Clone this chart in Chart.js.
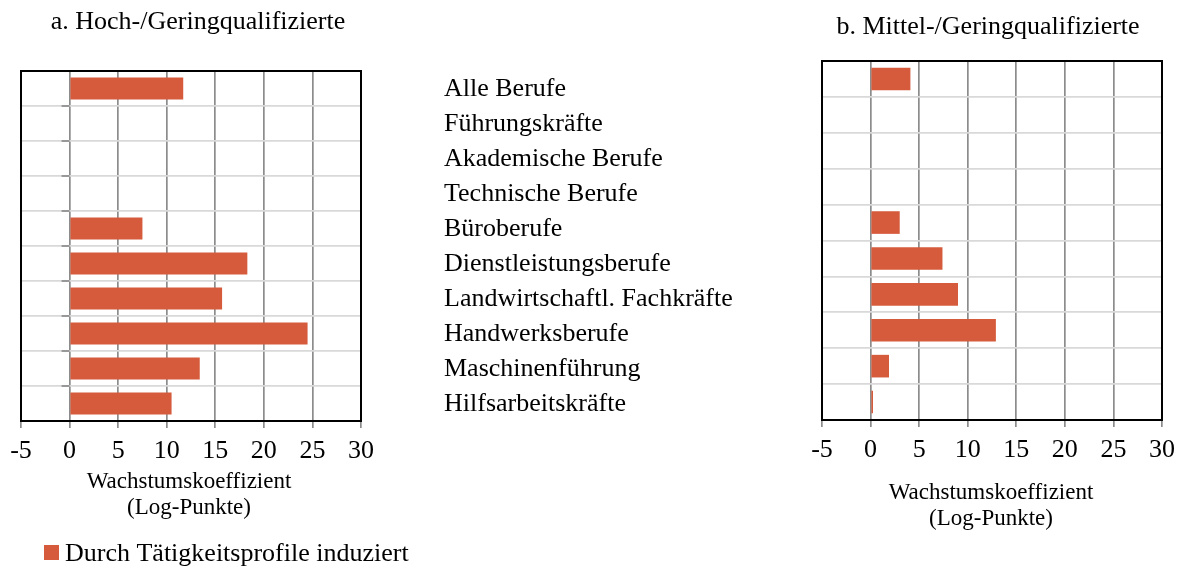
<!DOCTYPE html>
<html>
<head>
<meta charset="utf-8">
<script src="https://cdn.jsdelivr.net/npm/chart.js@4/dist/chart.umd.min.js"></script>
<style>
  html, body { margin: 0; padding: 0; background: #ffffff; }
  body { width: 1183px; height: 568px; position: relative; overflow: hidden; }
  .cv { position: absolute; top: 0; }
</style>
</head>
<body>
<div class="cv" style="left:0px;width:800px;height:568px"><canvas id="chartA"></canvas></div>
<div class="cv" style="left:780px;width:403px;height:568px"><canvas id="chartB"></canvas></div>
<script>
// ---- Data ----
const categories = [
  "Alle Berufe",
  "Führungskräfte",
  "Akademische Berufe",
  "Technische Berufe",
  "Büroberufe",
  "Dienstleistungsberufe",
  "Landwirtschaftl. Fachkräfte",
  "Handwerksberufe",
  "Maschinenführung",
  "Hilfsarbeitskräfte"
];
const valuesHochGering   = [11.7, null, null, null, 7.5, 18.3, 15.7, 24.5, 13.4, 10.5];
const valuesMittelGering = [4.1, null, null, null, 3.0, 7.4, 9.0, 12.9, 1.9, 0.25];
const xTickValues = [-5, 0, 5, 10, 15, 20, 25, 30];
const seriesLabel = "Durch Tätigkeitsprofile induziert";
const titleA = "a. Hoch-/Geringqualifizierte";
const titleB = "b. Mittel-/Geringqualifizierte";
const axisTitleLines = ["Wachstumskoeffizient", "(Log-Punkte)"];

// ---- Styles ----
const FONT = "'Liberation Serif', 'Times New Roman', Times, serif";
const BAR_COLOR = "#D55B3C";
const VGRID = "#8c8c8c";
const HGRID = "#d9d9d9";
const XAXIS_H = 46;

function makePlugin(cfg) {
  return {
    id: 'extras',
    afterDatasetsDraw(chart) {
      const ctx = chart.ctx;
      const a = chart.chartArea;
      const xs = chart.scales.x, ys = chart.scales.y;
      ctx.save();
      // y ticks on zero line
      if (cfg.zeroTicks) {
        const x0 = xs.getPixelForValue(0);
        ctx.strokeStyle = VGRID;
        ctx.lineWidth = 1.7;
        const n = categories.length;
        const band = (a.bottom - a.top) / n;
        for (let i = 0; i <= n; i++) {
          const y = a.top + i * band;
          ctx.beginPath();
          ctx.moveTo(x0 - 8, y);
          ctx.lineTo(x0, y);
          ctx.stroke();
        }
      }
      // black frame
      ctx.strokeStyle = "#000000";
      ctx.lineWidth = 2;
      ctx.strokeRect(a.left, a.top, a.right - a.left, a.bottom - a.top);
      // title
      ctx.fillStyle = "#000000";
      ctx.textBaseline = "middle";
      ctx.textAlign = "center";
      ctx.font = "26px " + FONT;
      ctx.fillText(cfg.title, cfg.titleX, cfg.titleY);
      // axis title
      ctx.font = "23px " + FONT;
      axisTitleLines.forEach((t, i) => ctx.fillText(t, cfg.axisX, cfg.axisY + i * 25.5));
      // category labels
      if (cfg.catLabelsX) {
        ctx.textAlign = "left";
        ctx.font = "26px " + FONT;
        categories.forEach((c, i) => {
          ctx.fillText(c, cfg.catLabelsX, ys.getPixelForValue(i) + 1);
        });
      }
      // legend
      if (cfg.legend) {
        const ds = chart.data.datasets[0];
        ctx.fillStyle = ds.backgroundColor;
        ctx.fillRect(cfg.legend.x, cfg.legend.y, 15, 15);
        ctx.fillStyle = "#000000";
        ctx.textAlign = "left";
        ctx.font = "26px " + FONT;
        ctx.fillText(ds.label, cfg.legend.x + 21, cfg.legend.y + 9);
      }
      ctx.restore();
    }
  };
}

function makeChart(id, values, pad, cfg) {
  return new Chart(document.getElementById(id), {
    type: 'bar',
    data: {
      labels: categories,
      datasets: [{
        label: seriesLabel,
        data: values,
        backgroundColor: BAR_COLOR,
        borderWidth: 0,
        barPercentage: 0.63,
        categoryPercentage: 1.0
      }]
    },
    options: {
      indexAxis: 'y',
      responsive: true,
      maintainAspectRatio: false,
      animation: false,
      events: [],
      layout: { padding: pad },
      plugins: {
        legend: { display: false },
        title: { display: false },
        tooltip: { enabled: false }
      },
      scales: {
        x: {
          type: 'linear',
          min: -5, max: 30,
          afterBuildTicks: s => { s.ticks = xTickValues.map(v => ({ value: v })); },
          afterFit: s => { s.height = XAXIS_H; },
          ticks: {
            color: "#000000",
            font: { family: FONT, size: 26 },
            padding: 8,
            maxRotation: 0,
            autoSkip: false
          },
          grid: { color: VGRID, lineWidth: 1.7, tickLength: 7, drawTicks: true },
          border: { display: false }
        },
        y: {
          type: 'category',
          offset: true,
          afterFit: s => { s.width = 0; },
          ticks: { display: false },
          grid: { color: HGRID, lineWidth: 1.7, offset: true, drawTicks: false },
          border: { display: false }
        }
      }
    },
    plugins: [makePlugin(cfg)]
  });
}

// Left chart: plot area x 21..361, y 71..421 (canvas 800 wide)
makeChart('chartA', valuesHochGering,
  { left: 21, top: 71, right: 800 - 361, bottom: 568 - 421 - XAXIS_H },
  { title: titleA, titleX: 198, titleY: 22, axisX: 189, axisY: 482,
    catLabelsX: 444, zeroTicks: true, legend: { x: 44, y: 545 } });

// Right chart: plot area x 822..1163, y 61..420 (canvas offset 780, 403 wide)
makeChart('chartB', valuesMittelGering,
  { left: 822 - 780, top: 61, right: 403 - (1163 - 780), bottom: 568 - 420 - XAXIS_H },
  { title: titleB, titleX: 988 - 780, titleY: 27, axisX: 991 - 780, axisY: 493,
    catLabelsX: null, zeroTicks: false, legend: null });
</script>
</body>
</html>
